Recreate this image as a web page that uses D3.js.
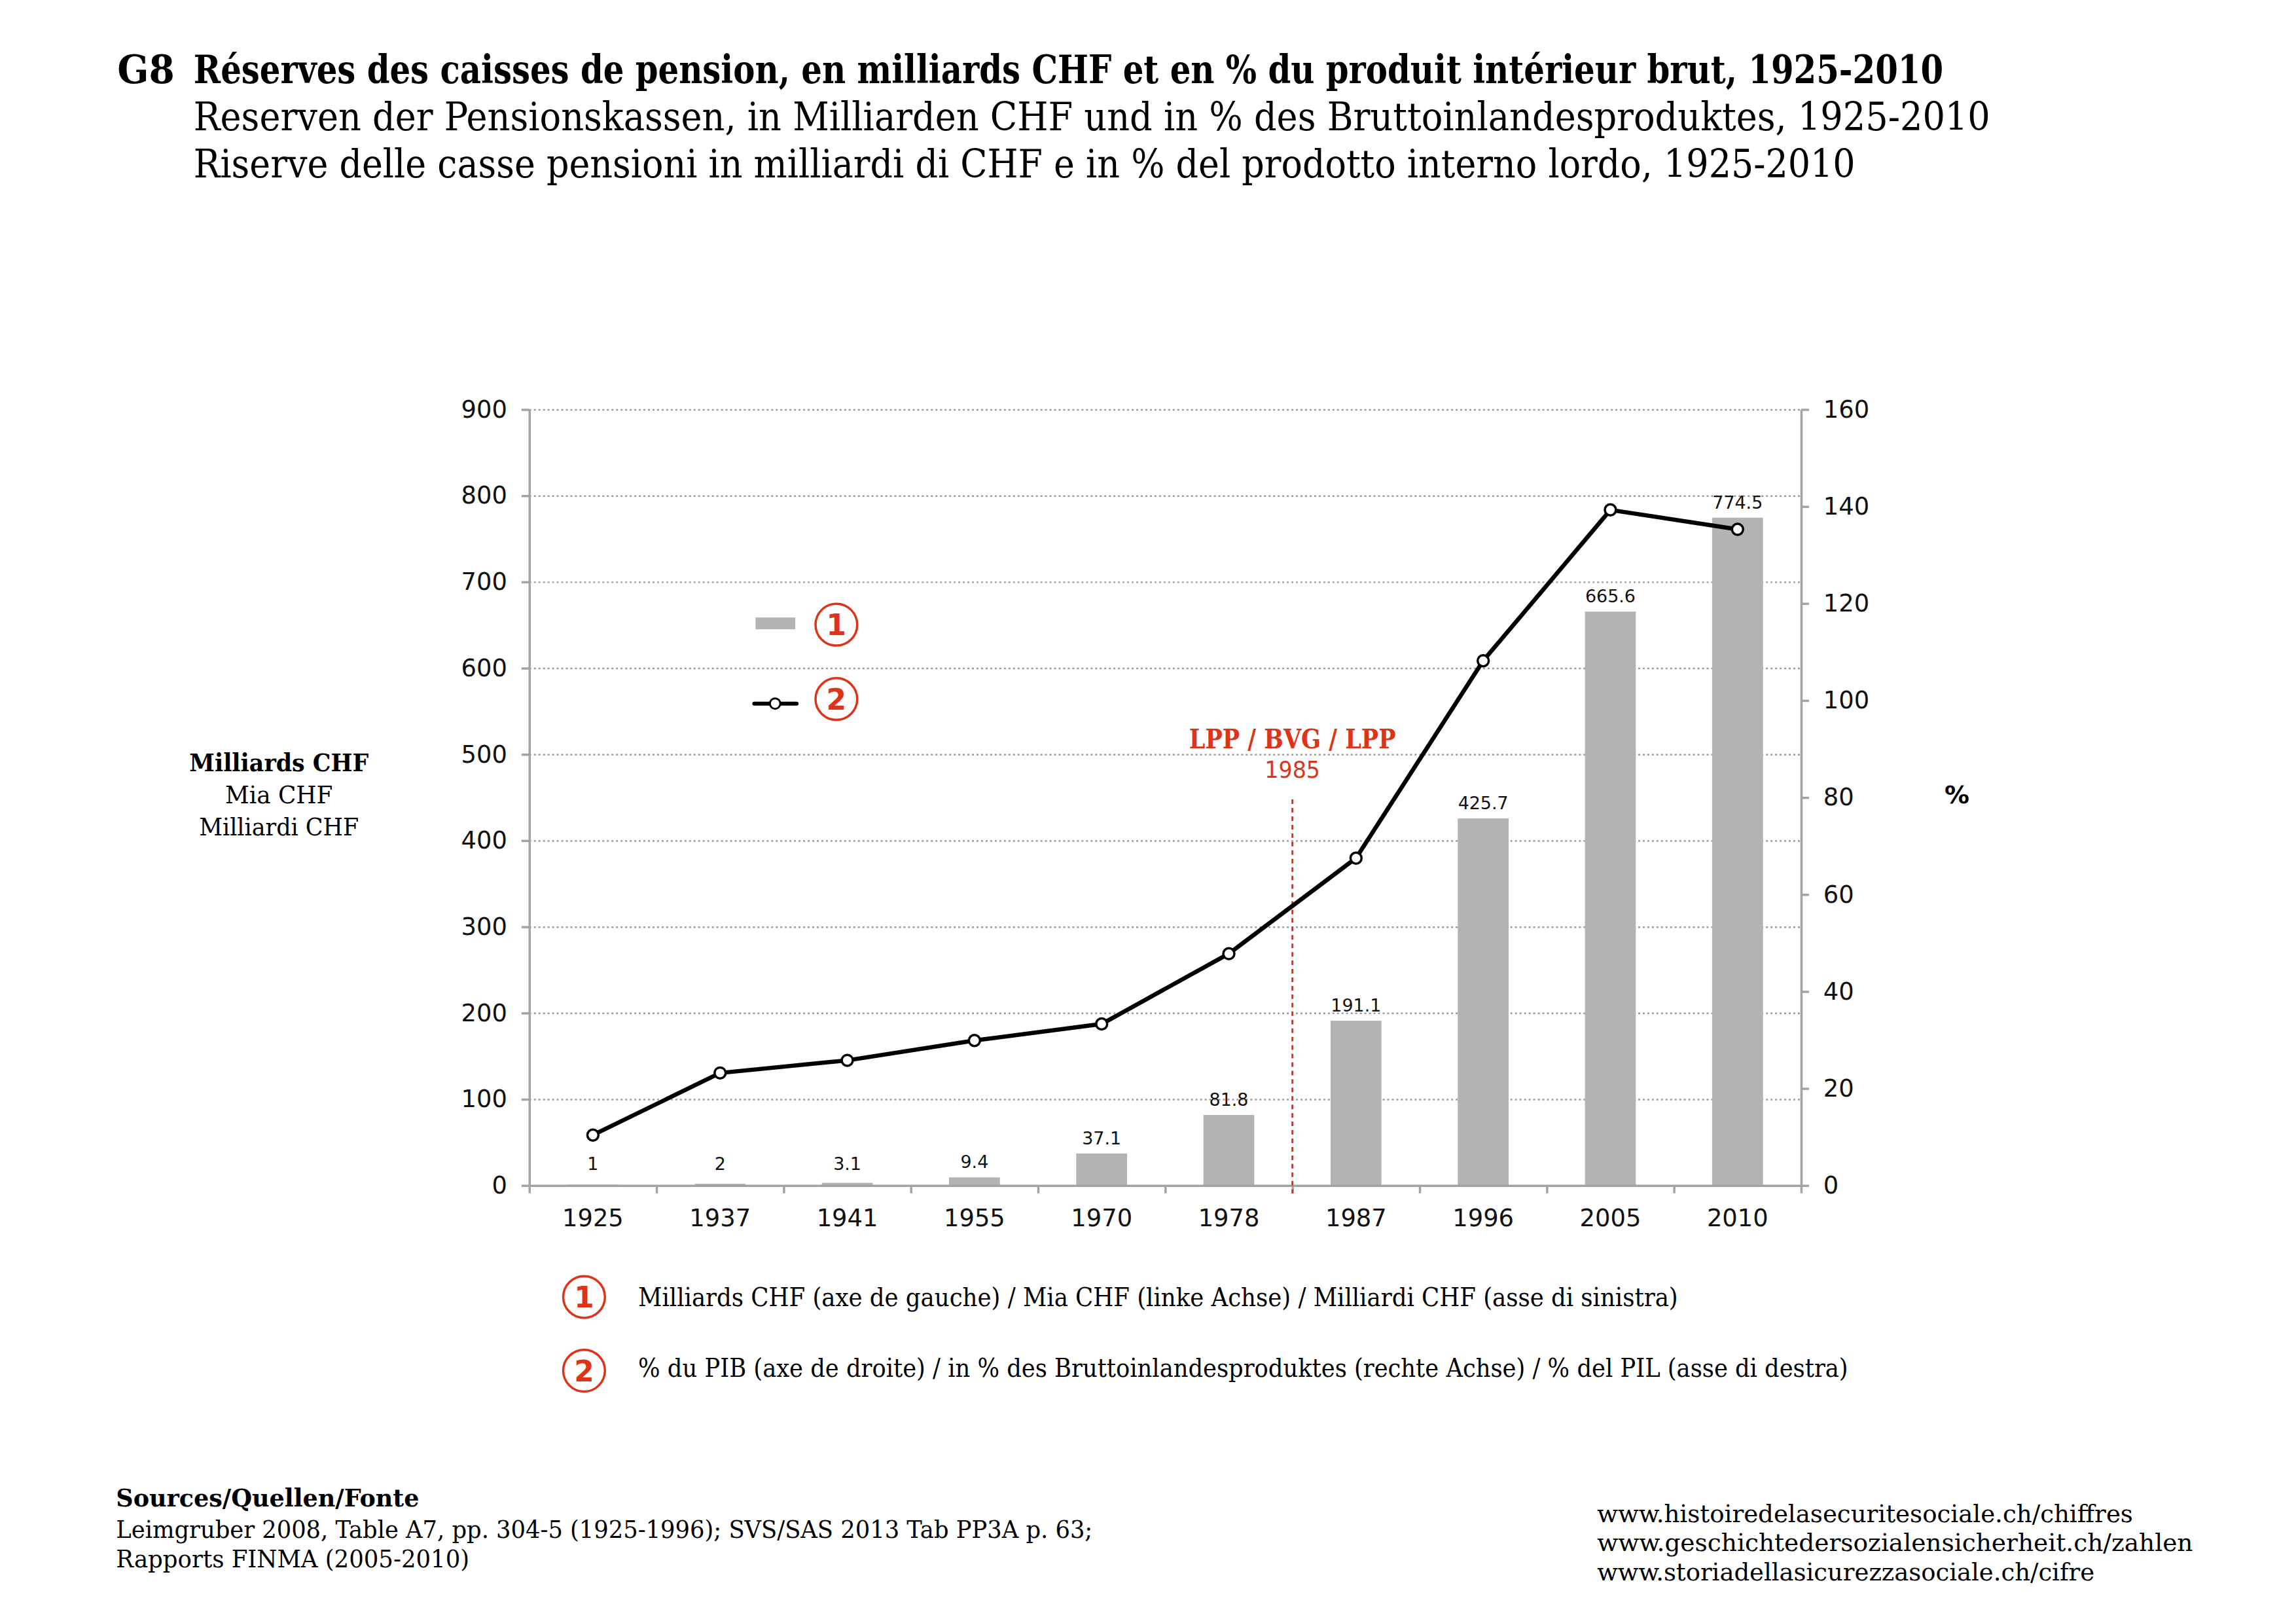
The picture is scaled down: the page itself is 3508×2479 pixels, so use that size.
<!DOCTYPE html>
<html>
<head>
<meta charset="utf-8">
<script src="https://cdn.jsdelivr.net/npm/d3@7"></script>
<style>
  body { margin: 0; background: #fff; }
  .slab { font-family: "DejaVu Serif Condensed", "DejaVu Serif", serif; }
  .sans { font-family: "DejaVu Sans", "Open Sans", sans-serif; }
  .grid line { stroke: #9c9c9c; stroke-width: 2.5; stroke-dasharray: 3,4; }
  .axis path, .axis line { stroke: #a3a3a3; stroke-width: 3.5; }
  .axis text { fill: #111; font-family: "DejaVu Sans", sans-serif; font-size: 37px; }
</style>
</head>
<body>
<svg id="chart" width="3508" height="2479"></svg>
<script>
// data
const years = ["1925", "1937", "1941", "1955", "1970", "1978", "1987", "1996", "2005", "2010"];
const reserves = [1, 2, 3.1, 9.4, 37.1, 81.8, 191.1, 425.7, 665.6, 774.5];   // Milliards CHF
const pctGdp = [10.4, 23.2, 25.8, 29.9, 33.3, 47.8, 67.5, 108.2, 139.3, 135.3]; // % du PIB
const leftTicks = [0, 100, 200, 300, 400, 500, 600, 700, 800, 900];
const rightTicks = [0, 20, 40, 60, 80, 100, 120, 140, 160];

const titleLines = [
  "Réserves des caisses de pension, en milliards CHF et en % du produit intérieur brut, 1925-2010",
  "Reserven der Pensionskassen, in Milliarden CHF und in % des Bruttoinlandesproduktes, 1925-2010",
  "Riserve delle casse pensioni in milliardi di CHF e in % del prodotto interno lordo, 1925-2010"
];
const leftLabel = ["Milliards CHF", "Mia CHF", "Milliardi CHF"];
const legendTexts = [
  "Milliards CHF (axe de gauche) / Mia CHF (linke Achse) / Milliardi CHF (asse di sinistra)",
  "% du PIB (axe de droite) / in % des Bruttoinlandesproduktes (rechte Achse) / % del PIL (asse di destra)"
];
const sourceLines = [
  "Leimgruber 2008, Table A7, pp. 304-5 (1925-1996); SVS/SAS 2013 Tab PP3A p. 63;",
  "Rapports FINMA (2005-2010)"
];
const urls = [
  "www.histoiredelasecuritesociale.ch/chiffres",
  "www.geschichtedersozialensicherheit.ch/zahlen",
  "www.storiadellasicurezzasociale.ch/cifre"
];

const red = "#dd3418";
const svg = d3.select("#chart").append("g").attr("transform", "scale(0.996)");

const plotLeft = 812, plotRight = 2763, plotTop = 628, plotBottom = 1818;

const x = d3.scaleBand().domain(years).range([plotLeft, plotRight]).paddingInner(0.6).paddingOuter(0.3);
const xEdges = d3.scaleLinear().domain([0, years.length]).range([plotLeft, plotRight]);
const yL = d3.scaleLinear().domain([0, 900]).range([plotBottom, plotTop]);
const yR = d3.scaleLinear().domain([0, 160]).range([plotBottom, plotTop]);

// fitted text helper
function fitText(g, str, px, py, width, size, cls, weight, anchor, fill) {
  return g.append("text")
    .attr("class", cls)
    .attr("x", px).attr("y", py)
    .attr("font-size", size)
    .attr("font-weight", weight || "normal")
    .attr("text-anchor", anchor || "start")
    .attr("fill", fill || "#000")
    .attr("textLength", width)
    .attr("lengthAdjust", "spacingAndGlyphs")
    .text(str);
}

// title
fitText(svg, "G8", 180, 128, 88, 60, "slab", "bold");
const titleEnds = [2981, 3053, 2846];
titleLines.forEach(function (t, i) {
  fitText(svg, t, 297, 128 + i * 72, titleEnds[i] - 297, 60, "slab", i === 0 ? "bold" : "normal");
});

// gridlines
svg.append("g")
  .attr("class", "grid")
  .attr("transform", "translate(" + plotLeft + ",0)")
  .call(d3.axisLeft(yL).tickValues(leftTicks.slice(1)).tickSize(-(plotRight - plotLeft)).tickFormat(""))
  .call(function (g) { g.select(".domain").remove(); });

// bars
svg.append("g").selectAll("rect")
  .data(years)
  .join("rect")
  .attr("x", function (d) { return x(d); })
  .attr("y", function (d, i) { return yL(reserves[i]); })
  .attr("width", x.bandwidth())
  .attr("height", function (d, i) { return yL(0) - yL(reserves[i]); })
  .attr("fill", "#b3b3b3");

// bar labels
svg.append("g").selectAll("text")
  .data(years)
  .join("text")
  .attr("class", "sans")
  .attr("x", function (d) { return x(d) + x.bandwidth() / 2; })
  .attr("y", function (d, i) { return Math.min(yL(reserves[i]) - 14, yL(0) - 24); })
  .attr("text-anchor", "middle")
  .attr("font-size", 27)
  .attr("fill", "#111")
  .text(function (d, i) { return reserves[i]; });

// left axis
svg.append("g")
  .attr("class", "axis")
  .attr("transform", "translate(" + plotLeft + ",0)")
  .call(d3.axisLeft(yL).tickValues(leftTicks).tickSize(12).tickSizeOuter(0).tickPadding(22));

// right axis
svg.append("g")
  .attr("class", "axis")
  .attr("transform", "translate(" + plotRight + ",0)")
  .call(d3.axisRight(yR).tickValues(rightTicks).tickSize(12).tickSizeOuter(0).tickPadding(22));

// x axis: ticks between categories, labels centred
svg.append("g")
  .attr("class", "axis")
  .attr("transform", "translate(0," + plotBottom + ")")
  .call(d3.axisBottom(xEdges).ticks(years.length).tickSize(12).tickSizeOuter(0).tickFormat(""));
svg.append("g")
  .attr("class", "axis")
  .attr("transform", "translate(0," + plotBottom + ")")
  .call(d3.axisBottom(x).tickSize(0).tickPadding(36))
  .call(function (g) { g.select(".domain").remove(); });

// LPP annotation
const lppX = xEdges(6);
svg.append("line")
  .attr("x1", lppX).attr("x2", lppX)
  .attr("y1", 1226).attr("y2", plotBottom + 12)
  .attr("stroke", red).attr("stroke-width", 3).attr("stroke-dasharray", "7,6");
fitText(svg, "LPP / BVG / LPP", lppX, 1148, 317, 42, "slab", "bold", "middle", red);
fitText(svg, "1985", lppX, 1193, 85, 36, "sans", "normal", "middle", red);

// % line
const pts = years.map(function (d, i) { return [x(d) + x.bandwidth() / 2, yR(pctGdp[i])]; });
svg.append("path")
  .attr("d", d3.line()(pts))
  .attr("fill", "none")
  .attr("stroke", "#000")
  .attr("stroke-width", 6.5)
  .attr("stroke-linejoin", "round");
svg.append("g").selectAll("circle")
  .data(pts)
  .join("circle")
  .attr("cx", function (d) { return d[0]; })
  .attr("cy", function (d) { return d[1]; })
  .attr("r", 8.5)
  .attr("fill", "#fff")
  .attr("stroke", "#000")
  .attr("stroke-width", 3.5);

// circled number badge
function badge(cx, cy, n) {
  svg.append("circle")
    .attr("cx", cx).attr("cy", cy).attr("r", 32)
    .attr("fill", "#fff").attr("stroke", red).attr("stroke-width", 3.5);
  svg.append("text")
    .attr("class", "sans")
    .attr("x", cx).attr("y", cy + 16)
    .attr("text-anchor", "middle")
    .attr("font-size", 44).attr("font-weight", "bold")
    .attr("fill", red)
    .text(n);
}

// inner legend
svg.append("rect").attr("x", 1159).attr("y", 947).attr("width", 61).attr("height", 18).attr("fill", "#b3b3b3");
badge(1283, 958, "1");
svg.append("line").attr("x1", 1157).attr("x2", 1222).attr("y1", 1079).attr("y2", 1079)
  .attr("stroke", "#000").attr("stroke-width", 6).attr("stroke-linecap", "round");
svg.append("circle").attr("cx", 1189).attr("cy", 1079).attr("r", 8)
  .attr("fill", "#fff").attr("stroke", "#000").attr("stroke-width", 3);
badge(1283, 1072, "2");

// bottom legend
badge(896, 1989, "1");
badge(896, 2102, "2");
fitText(svg, legendTexts[0], 979, 2003, 2574 - 979, 40, "slab");
fitText(svg, legendTexts[1], 979, 2111, 2835 - 979, 40, "slab");

// axis titles
const labelW = [275, 165, 245];
leftLabel.forEach(function (t, i) {
  fitText(svg, t, 428, 1183 + i * 49, labelW[i], 38, "slab", i === 0 ? "bold" : "normal", "middle");
});
svg.append("text").attr("class", "sans")
  .attr("x", 3002).attr("y", 1232).attr("text-anchor", "middle")
  .attr("font-size", 38).attr("font-weight", "bold").text("%");

// sources
fitText(svg, "Sources/Quellen/Fonte", 178, 2310, 643 - 178, 38, "slab", "bold");
fitText(svg, sourceLines[0], 178, 2358, 1676 - 178, 38, "slab");
fitText(svg, sourceLines[1], 178, 2404, 720 - 178, 38, "slab");
const urlEnds = [3272, 3364, 3213];
urls.forEach(function (u, i) {
  fitText(svg, u, 2450, 2334 + i * 45, urlEnds[i] - 2450, 38, "slab");
});
</script>
</body>
</html>
